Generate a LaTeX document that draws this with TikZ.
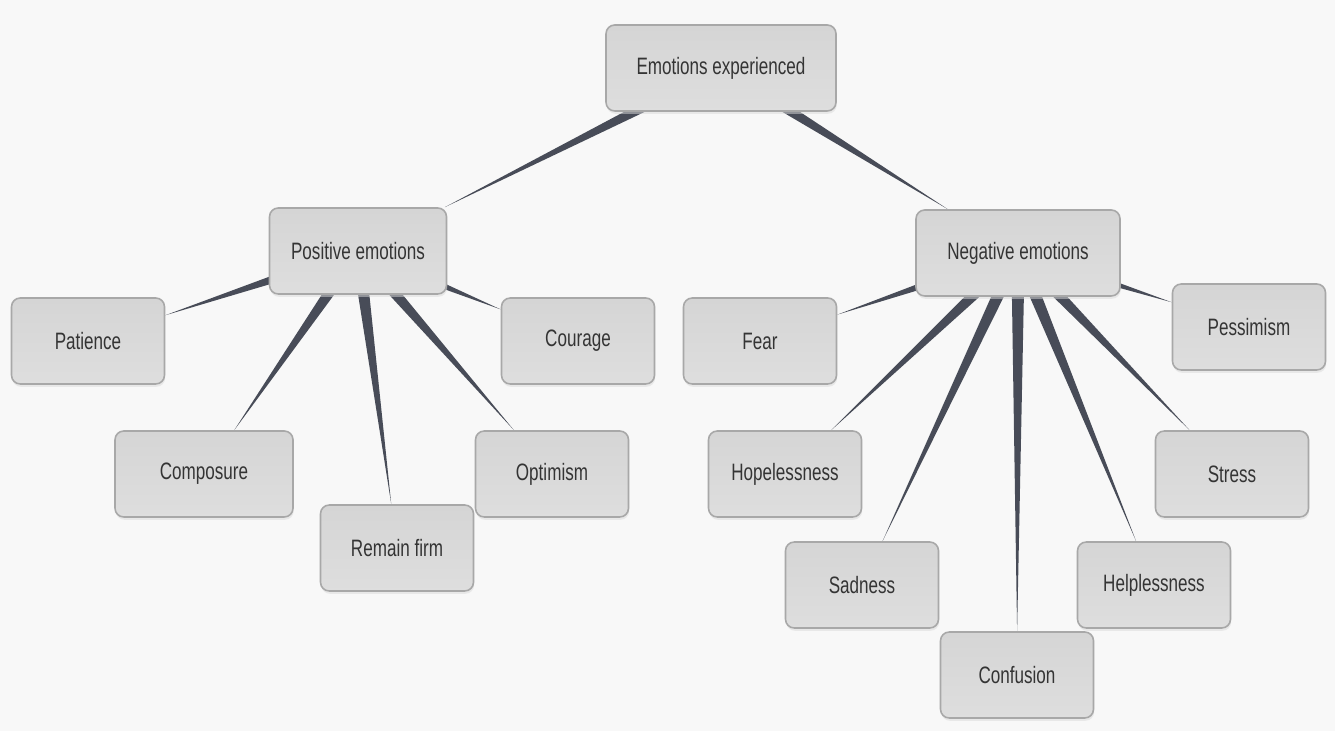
\documentclass[tikz,border=0pt]{standalone}
\usepackage{fontspec}
\usepackage{tikz}
\usetikzlibrary{calc,shadows}
\newfontfamily\boxfont{Liberation Sans}[FakeStretch=0.72]
\definecolor{canvas}{RGB}{248,248,248}
\definecolor{spokecol}{RGB}{72,76,88}
\definecolor{boxline}{RGB}{168,168,168}
\definecolor{boxtext}{RGB}{52,52,52}
\definecolor{boxshadow}{RGB}{218,218,218}
\pgfdeclarelayer{links}
\pgfsetlayers{links,main}

\begin{document}
\begin{tikzpicture}[
  box/.style={draw=boxline, line width=0.9pt, rounded corners=5pt, align=center,
              minimum width=3.06cm, minimum height=1.72cm, inner sep=2pt,
              top color=gray!33, bottom color=gray!26, text=boxtext,
              font=\boxfont\fontsize{13.5}{16}\selectfont,
              drop shadow={shadow xshift=0.4pt, shadow yshift=-1.6pt,
                           fill=boxshadow, draw=none}},
  spoke/.style={fill=spokecol, draw=none}
]
\useasboundingbox (0,0) rectangle (26.7,-14.62);
% top level
\node[box, minimum width=4.6cm] (emotions) at (14.42,-1.36) {Emotions experienced};
\node[box, minimum width=3.54cm] (positive) at (7.16,-5.02) {Positive emotions};
\node[box, minimum width=4.08cm] (negative) at (20.36,-5.06) {Negative emotions};
% positive side
\node[box] (patience) at (1.76,-6.82) {Patience};
\node[box] (courage) at (11.56,-6.82) {Courage};
\node[box, minimum width=3.56cm] (composure) at (4.08,-9.48) {Composure};
\node[box] (firm) at (7.94,-10.96) {Remain firm};
\node[box] (optimism) at (11.04,-9.48) {Optimism};
% negative side
\node[box] (fear) at (15.20,-6.82) {Fear};
\node[box] (pessimism) at (24.98,-6.54) {Pessimism};
\node[box] (hopeless) at (15.70,-9.48) {Hopelessness};
\node[box] (stress) at (24.64,-9.48) {Stress};
\node[box] (sadness) at (17.24,-11.70) {Sadness};
\node[box] (helpless) at (23.08,-11.70) {Helplessness};
\node[box] (confusion) at (20.34,-13.50) {Confusion};
% background and tapered links, under the boxes
\begin{pgfonlayer}{links}
\fill[canvas] (0,0) rectangle (26.7,-14.62);
\foreach \from/\to in {emotions/positive, emotions/negative,
                   positive/patience, positive/composure, positive/firm,
                   positive/optimism, positive/courage,
                   negative/fear, negative/hopeless, negative/sadness,
                   negative/confusion, negative/helpless, negative/stress,
                   negative/pessimism}{
  \path (\from) -- (\to) coordinate[pos=1] (tip);
  \fill[spoke] ($(\from.center)!1.35mm!90:(\to.center)$) -- (tip)
               -- ($(\from.center)!1.35mm!-90:(\to.center)$) -- cycle;
}
\end{pgfonlayer}
\end{tikzpicture}
\end{document}
